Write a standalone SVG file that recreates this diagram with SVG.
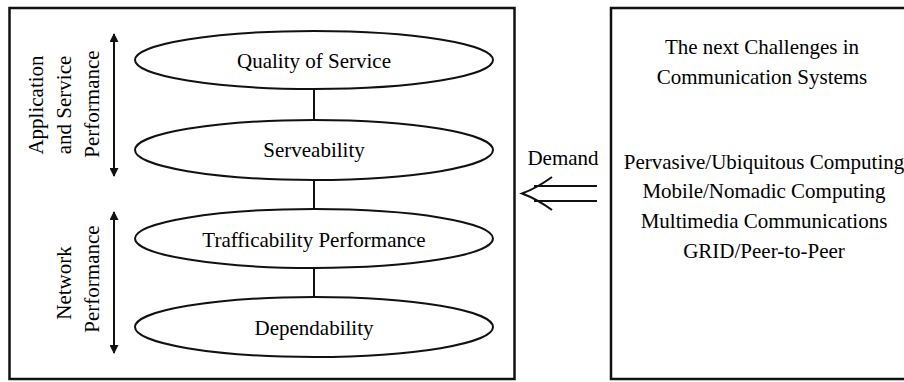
<svg xmlns="http://www.w3.org/2000/svg" width="904" height="382" viewBox="0 0 904 382">
<style>
text { font-family: "Liberation Serif", "Times New Roman", serif; font-size: 21px; fill: #000; }
.c { text-anchor: middle; }
.box { fill: #fff; stroke: #111; stroke-width: 2.5; }
.ell { fill: #fff; stroke: #111; stroke-width: 2; }
.ln { stroke: #111; stroke-width: 2; fill: none; }
</style>
<defs>
<marker id="ah" viewBox="0 0 10 10" refX="9" refY="5" markerWidth="5.5" markerHeight="4.5" markerUnits="strokeWidth" orient="auto-start-reverse">
<path d="M0,0 L10,5 L0,10 z" fill="#111"/>
</marker>
</defs>
<rect width="904" height="382" fill="#fff"/>
<g id="left-box"><rect class="box" x="9.5" y="8" width="505" height="371"/></g>
<g id="right-box"><rect class="box" x="611" y="8" width="310" height="371"/></g>
<g id="connectors">
<line class="ln" x1="314" y1="89" x2="314" y2="120"/>
<line class="ln" x1="314" y1="180" x2="314" y2="209"/>
<line class="ln" x1="314" y1="268" x2="314" y2="298"/>
<line class="ln" x1="114" y1="34" x2="114" y2="176" marker-start="url(#ah)" marker-end="url(#ah)"/>
<line class="ln" x1="114" y1="212" x2="114" y2="353" marker-start="url(#ah)" marker-end="url(#ah)"/>
<path class="ln" d="M597,186 L534,186 M597,201 L534,201 M552,177 Q537,188 522,193.5 Q537,199 552,210"/>
</g>
<g id="qos"><ellipse class="ell" cx="314" cy="60" rx="179" ry="29"/><text class="c" x="314" y="68">Quality of Service</text></g>
<g id="serveability"><ellipse class="ell" cx="314" cy="150" rx="179" ry="30"/><text class="c" x="314" y="157">Serveability</text></g>
<g id="trafficability"><ellipse class="ell" cx="314" cy="238.5" rx="179" ry="29.5"/><text class="c" x="314" y="247">Trafficability Performance</text></g>
<g id="dependability"><ellipse class="ell" cx="314" cy="327" rx="179" ry="30"/><text class="c" x="314" y="335">Dependability</text></g>
<g id="app-label">
<text class="c" transform="translate(43,105) rotate(-90)">Application</text>
<text class="c" transform="translate(71,105) rotate(-90)">and Service</text>
<text class="c" transform="translate(99,104) rotate(-90)">Performance</text>
</g>
<g id="net-label">
<text class="c" transform="translate(71,283) rotate(-90)">Network</text>
<text class="c" transform="translate(99,279) rotate(-90)">Performance</text>
</g>
<g id="demand"><text class="c" x="563" y="165">Demand</text></g>
<g id="challenges">
<text class="c" x="762" y="54">The next Challenges in</text>
<text class="c" x="762" y="84">Communication Systems</text>
<text class="c" x="764" y="169">Pervasive/Ubiquitous Computing</text>
<text class="c" x="764" y="198">Mobile/Nomadic Computing</text>
<text class="c" x="764" y="228">Multimedia Communications</text>
<text class="c" x="764" y="258">GRID/Peer-to-Peer</text>
</g>
</svg>
